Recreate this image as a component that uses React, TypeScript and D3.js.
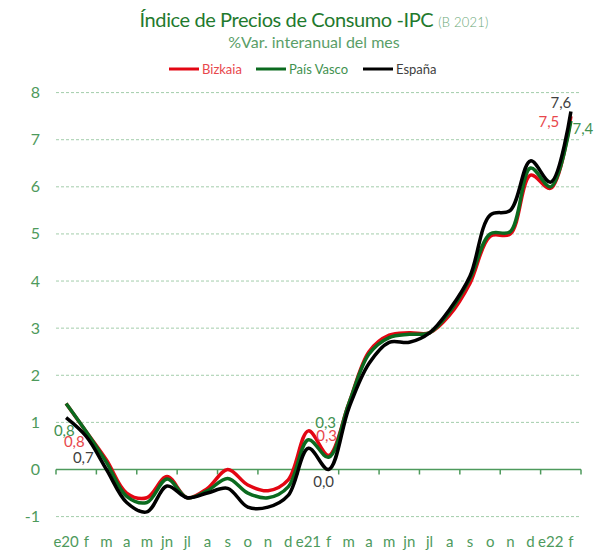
import React from 'react';
import * as d3 from 'd3';

const WIDTH = 604;
const HEIGHT = 550;

const months = [
  'e20', 'f', 'm', 'a', 'm', 'jn', 'jl', 'a', 's', 'o', 'n', 'd',
  'e21', 'f', 'm', 'a', 'm', 'jn', 'jl', 'a', 's', 'o', 'n', 'd',
  'e22', 'f',
];

const bizkaia = [
  1.4, 0.8, 0.2, -0.5, -0.6, -0.15, -0.6, -0.4, 0.0, -0.33, -0.45, -0.22,
  0.82, 0.3, 1.4, 2.5, 2.85, 2.9, 2.9, 3.28, 3.95, 4.95, 5.0, 6.25, 5.97, 7.5,
];
const paisVasco = [
  1.4, 0.8, 0.15, -0.57, -0.7, -0.2, -0.6, -0.45, -0.19, -0.5, -0.6, -0.37,
  0.63, 0.26, 1.4, 2.45, 2.8, 2.87, 2.9, 3.35, 4.05, 5.0, 5.05, 6.4, 6.0, 7.4,
];
const espana = [
  1.1, 0.7, 0.0, -0.7, -0.9, -0.35, -0.6, -0.5, -0.4, -0.8, -0.8, -0.55,
  0.45, 0.0, 1.3, 2.25, 2.7, 2.7, 2.9, 3.4, 4.1, 5.4, 5.5, 6.55, 6.1, 7.6,
];

const yTicks = [-1, 0, 1, 2, 3, 4, 5, 6, 7, 8];
// months that carry a value label (every February)
const labelled = [1, 13, 25];

const series = [
  {
    name: 'Bizkaia', values: bizkaia, stroke: '#e30613', text: '#e8474c',
    offsets: [[-12, 10], [-2, -19], [-22, 6]],
  },
  {
    name: 'País Vasco', values: paisVasco, stroke: '#0b6a1f', text: '#3f9150',
    offsets: [[-22, -1], [-3, -34], [12, 8]],
  },
  {
    name: 'España', values: espana, stroke: '#000000', text: '#404040',
    offsets: [[-3, 21], [-5, 13], [-10, -8]],
  },
];

const FONT = 'Lato, "Open Sans", sans-serif';
const AXIS_GREEN = '#4e9a5c';

export default function App() {
  const x = d3.scaleBand<number>()
    .domain(months.map((_, i) => i))
    .range([56, 581]);
  const y = d3.scaleLinear().domain([-1, 8]).range([516.6, 92.6]);

  const line = d3.line<number>()
    .x((_, i) => (x(i) as number) + x.bandwidth() / 2)
    .y((d) => y(d))
    .curve(d3.curveCatmullRom.alpha(0.5));

  const fmt = (v: number) => v.toFixed(1).replace('.', ',').replace('-0,0', '0,0');

  const tickXs = d3.range(0, months.length + 1, 2).map((i) => 56 + i * x.bandwidth());

  return (
    <svg
      width={WIDTH}
      height={HEIGHT}
      style={{ position: 'absolute', left: 0, top: 0, background: '#fff' }}
      fontFamily={FONT}
    >
      {/* title */}
      <text x={314} y={27} textAnchor="middle" fill="#1f7a2e" fontSize={20} letterSpacing={-0.4}>
        Índice de Precios de Consumo -IPC
        <tspan fontSize={13} fill="#6aa876" dx={5} letterSpacing={0.2} fontWeight={300}>(B 2021)</tspan>
      </text>
      <text x={314} y={48} textAnchor="middle" fill="#5a9e68" fontSize={16}>
        %Var. interanual del mes
      </text>

      {/* legend */}
      {series.map((s, k) => {
        const lx = [169, 256, 363][k];
        return (
          <g key={s.name}>
            <line x1={lx} x2={lx + 30} y1={69} y2={69} stroke={s.stroke} strokeWidth={3} />
            <text x={lx + 33} y={73.5} fontSize={13} fill={s.text}>{s.name}</text>
          </g>
        );
      })}

      {/* grid */}
      {yTicks.map((t) => (
        <g key={t}>
          {t !== 0 && (
            <line
              x1={56} x2={581} y1={y(t)} y2={y(t)}
              stroke="#a3cdab" strokeWidth={1} strokeDasharray="3,2"
            />
          )}
          <text x={40} y={y(t) + 5.5} textAnchor="end" fontSize={16} fill={AXIS_GREEN}>
            {t}
          </text>
        </g>
      ))}

      {/* zero axis */}
      <line x1={56} x2={581} y1={y(0)} y2={y(0)} stroke={AXIS_GREEN} strokeWidth={1.5} />
      {tickXs.map((tx) => (
        <line key={tx} x1={tx} x2={tx} y1={y(0)} y2={y(0) + 5} stroke={AXIS_GREEN} strokeWidth={1.5} />
      ))}
      {months.map((m, i) => (
        <text
          key={i}
          x={(x(i) as number) + x.bandwidth() / 2}
          y={547}
          textAnchor="middle"
          fontSize={15}
          fill={AXIS_GREEN}
        >
          {m}
        </text>
      ))}

      {/* lines */}
      {series.map((s) => (
        <path
          key={s.name}
          d={line(s.values) as string}
          fill="none"
          stroke={s.stroke}
          strokeWidth={3.5}
          strokeLinejoin="round"
        />
      ))}

      {/* value labels */}
      {series.map((s) =>
        labelled.map((i, j) => (
          <text
            key={s.name + i}
            x={(x(i) as number) + x.bandwidth() / 2 + s.offsets[j][0]}
            y={y(s.values[i]) + s.offsets[j][1] + 5}
            textAnchor="middle"
            fontSize={15}
            fill={s.text}
          >
            {fmt(s.values[i])}
          </text>
        ))
      )}
    </svg>
  );
}
